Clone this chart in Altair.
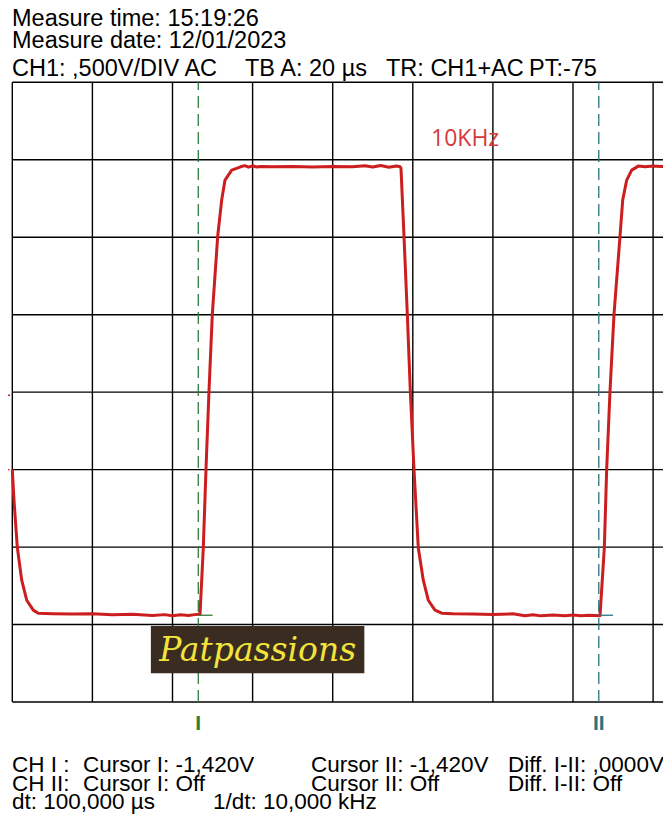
import altair as alt
import pandas as pd

# ---------------- data (time in µs, 20 µs/div ; voltage in V, 0.5 V/div) -------------
grid_t = [0, 20, 40, 60, 80, 100, 120, 140, 160, 180, 200]
grid_v = [-2.0, -1.5, -1.0, -0.5, 0.0, 0.5, 1.0, 1.5, 2.0]

wave_t = [0, 0.42, 1.25, 2.35, 3.60, 5.24, 6.49, 10, 15, 20, 25, 30, 35, 38, 40, 42,
          44, 45.5, 46.87, 47.69, 48.36, 49.11, 49.94, 51.29, 52.28, 53.11, 54.78,
          56.85, 58, 59, 60, 61, 62, 65, 70, 75, 80, 85, 88, 90, 92, 94, 96, 96.8,
          97.05, 97.80, 98.63, 99.38, 100.30, 101.37, 102.62, 103.87, 105.54, 107.22,
          110, 115, 120, 125, 128, 130, 132, 135, 138, 140, 142, 144, 145.5,
          146.75, 147.82, 148.41, 149.24, 150.24, 151.74, 152.41, 153.41, 154.66,
          156.30, 158, 160, 162, 166]
wave_v = [-0.499, -0.697, -1.001, -1.214, -1.343, -1.407, -1.427, -1.430, -1.432, -1.430,
          -1.437, -1.433, -1.441, -1.436, -1.443, -1.437, -1.441, -1.436, -1.433,
          -1.005, -0.499, 0.006, 0.502, 1.007, 1.240, 1.369, 1.433,
          1.453, 1.462, 1.452, 1.461, 1.453, 1.456, 1.455, 1.456, 1.454, 1.456, 1.455,
          1.461, 1.453, 1.463, 1.452, 1.460, 1.455,
          1.446, 1.007, 0.504, 0.006, -0.497, -1.005, -1.214, -1.343, -1.407, -1.427,
          -1.430, -1.432, -1.436, -1.431, -1.443, -1.437, -1.444, -1.438, -1.443,
          -1.439, -1.443, -1.440, -1.442,
          -1.443, -1.005, -0.497, 0.006, 0.504, 1.007, 1.240, 1.369, 1.433,
          1.459, 1.455, 1.460, 1.456, 1.458]

cursor_t = [46.44, 146.44]
cursor_name = ["I", "II"]
cursor_level_v = [-1.44, -1.44]
cursor_level_t2 = [50.0, 150.0]

header_lines = ["Measure time: 15:19:26", "Measure date: 12/01/2023"]
channel_parts = ["CH1: ,500V/DIV AC", "TB A: 20 µs", "TR: CH1+AC", "PT:-75"]
footer_row1 = ["CH I :", "Cursor I: -1,420V", "Cursor II: -1,420V", "Diff. I-II: ,0000V"]
footer_row2 = ["CH II:", "Cursor I: Off", "Cursor II: Off", "Diff. I-II: Off"]
footer_row3 = ["dt: 100,000 µs", "1/dt: 10,000 kHz"]
freq_note = "10KHz"
logo_text = "Patpassions"
logo_t = [34.6, 87.9]
logo_v = [-1.51, -1.814]

# ---------------- layout (chart px = page px - 8) -------------------------------------
W, H = 655, 806
XS = alt.Scale(domain=[0, 200], range=[4.3, 805.3], nice=False, zero=False)
YS = alt.Scale(domain=[-2, 2], range=[694, 74.3], nice=False, zero=False)
FONT = "Liberation Sans"

x_of = lambda f: alt.X(f, type="quantitative", scale=XS, axis=None)
y_of = lambda f: alt.Y(f, type="quantitative", scale=YS, axis=None)

vgrid = alt.Chart(pd.DataFrame({"t": grid_t, "lo": -2.0, "hi": 2.0})).mark_rule(
    color="black", strokeWidth=1.4, clip=True
).encode(x=x_of("t"), y=y_of("lo"), y2="hi")

hgrid = alt.Chart(pd.DataFrame({"v": grid_v, "t0": 0.0, "t1": 200.0})).mark_rule(
    color="black", strokeWidth=1.4, clip=True
).encode(y=y_of("v"), x=x_of("t0"), x2="t1")

cur_df = pd.DataFrame({"t": cursor_t, "name": cursor_name, "lo": -2.0, "hi": 2.0,
                       "lv": cursor_level_v, "t2": cursor_level_t2})
cur_colors = alt.Scale(domain=cursor_name, range=["#2f7d3b", "#2b7480"])
cursors = alt.Chart(cur_df).mark_rule(strokeWidth=1.3, strokeDash=[12, 6], clip=True).encode(
    x=x_of("t"), y=y_of("lo"), y2="hi",
    color=alt.Color("name:N", scale=cur_colors, legend=None))

marker_colors = alt.Scale(domain=cursor_name, range=["#6a3f9a", "#3a9a3a"])
markers = alt.Chart(cur_df).mark_rule(strokeWidth=1.3).encode(
    x=x_of("t"), x2="t2", y=y_of("lv"),
    color=alt.Color("name:N", scale=marker_colors, legend=None))

cur_labels = alt.Chart(cur_df).mark_text(font=FONT, fontSize=21, fontWeight="bold",
                                         align="center", baseline="alphabetic").encode(
    x=x_of("t"), y=alt.value(722), text="name:N",
    color=alt.Color("name:N", scale=alt.Scale(domain=cursor_name, range=["#1f7a3a", "#1f6f74"]),
                    legend=None))

left_marks = alt.Chart(pd.DataFrame({"a": [-1.2, -1.2], "b": [-0.55, 0.0], "v": [-0.02, -0.5],
                                     "k": ["gnd", "trg"]})).mark_rule(
    color="#c0282a", strokeWidth=1.3).encode(
    x=x_of("a"), x2="b", y=y_of("v"),
    strokeDash=alt.StrokeDash("k:N", scale=alt.Scale(domain=["gnd", "trg"], range=[[1, 0], [2, 2]]),
                              legend=None))

wave = alt.Chart(pd.DataFrame({"t": wave_t, "v": wave_v})).mark_line(
    color="#cc1e1e", strokeWidth=3, clip=True, strokeJoin="round"
).encode(x=x_of("t"), y=y_of("v"), order="t:Q")

logo_df = pd.DataFrame({"t0": [logo_t[0]], "t1": [logo_t[1]], "v0": [logo_v[0]], "v1": [logo_v[1]],
                        "tm": [(logo_t[0] + logo_t[1]) / 2], "vm": [(logo_v[0] + logo_v[1]) / 2],
                        "txt": [logo_text]})
logo_box = alt.Chart(logo_df).mark_rect(color="#3a2c20").encode(
    x=x_of("t0"), x2="t1", y=y_of("v0"), y2="v1")
logo_txt = alt.Chart(logo_df).mark_text(font="DejaVu Serif", fontStyle="italic", fontSize=33,
                                        color="#f2e43c", baseline="middle", align="center",
                                        dy=1).encode(
    x=x_of("tm"), y=y_of("vm"), text="txt:N")


def txt(s, x, y, size=23, color="black", font=FONT, weight="normal"):
    return alt.Chart(pd.DataFrame({"s": [s]})).mark_text(
        font=font, fontSize=size, color=color, align="left", baseline="alphabetic",
        fontWeight=weight).encode(x=alt.value(x), y=alt.value(y), text="s:N")


texts = []
for s, yy in zip(header_lines, [18, 40]):
    texts.append(txt(s, 4, yy, size=23.5))
for s, xx in zip(channel_parts, [4, 237, 378, 521]):
    texts.append(txt(s, xx, 68, size=23.5))
for row, yy in zip([footer_row1, footer_row2], [764, 783]):
    for s, xx in zip(row, [4, 75, 303, 500]):
        texts.append(txt(s, xx, yy, size=22.5))
for s, xx in zip(footer_row3, [4, 205]):
    texts.append(txt(s, xx, 801, size=22.5))
texts.append(txt(freq_note, 423, 138, size=23, color="#d8383a", font="Open Sans"))

chart = alt.layer(vgrid, hgrid, cursors, left_marks, wave, markers, logo_box, logo_txt,
                  cur_labels, *texts).properties(
    width=W, height=H, padding=0, autosize=alt.AutoSizeParams(type="none"),
    background="white"
).configure_view(strokeWidth=0)

chart.save("out.html", embed_options={"renderer": "svg", "actions": False})
